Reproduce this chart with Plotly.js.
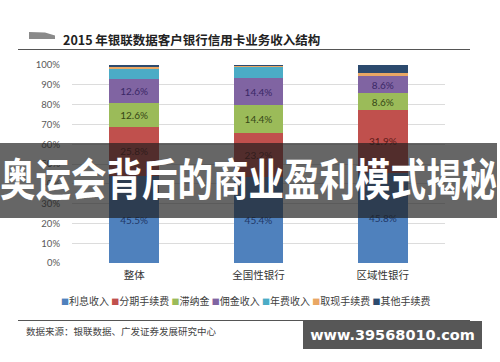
<!DOCTYPE html>
<html>
<head>
<meta charset="utf-8">
<script src="https://cdn.plot.ly/plotly-3.0.1.min.js"></script>
<style>
  html, body { margin:0; padding:0; background:#fff; }
  #wrap { position:relative; width:500px; height:362px; overflow:hidden; }
  #chart { position:absolute; left:0; top:0; width:500px; height:362px; }
  #banner { position:absolute; left:0; top:143px; width:497px; height:75px; background:rgba(30,30,30,0.68); overflow:hidden; }
  #banner span { position:absolute; left:0; width:490px; top:9px; text-align:center; color:#fff; font-family:"Noto Sans CJK SC", sans-serif; font-weight:700; font-size:35.5px; line-height:40px; white-space:nowrap; transform:scaleY(1.25); transform-origin:50% 0; letter-spacing:0px; }
  #wm { position:absolute; left:303px; top:321px; width:179px; height:28px; background:rgba(40,40,40,0.78); color:#fff; font-family:"DejaVu Sans", sans-serif; font-weight:700; font-size:14.5px; line-height:28px; text-align:center; white-space:nowrap; }
</style>
</head>
<body>
<div id="wrap">
  <div id="chart"></div>
  <div id="banner"><span>奥运会背后的商业盈利模式揭秘</span></div>
  <div id="wm">www.39568010.com</div>
</div>
<script>
// ---- data ----
const categories = ['整体', '全国性银行', '区域性银行'];
const seriesNames = ['利息收入', '分期手续费', '滞纳金', '佣金收入', '年费收入', '取现手续费', '其他手续费'];
const interestIncome   = [45.5, 45.4, 45.8];
const installmentFee   = [25.8, 23.2, 31.9];
const lateFee          = [12.6, 14.4, 8.6];
const commissionIncome = [12.6, 14.4, 8.6];
const annualFee        = [4.9, 5.7, 0.3];
const cashAdvanceFee   = [1.0, 0.8, 1.2];
const otherFee         = [1.2, 0.3, 4.2];
const labeledSeries    = [true, true, true, true, false, false, false];
const yTickVals = [0, 10, 20, 30, 40, 50, 60, 70, 80, 90, 100];
const titleText = '2015 年银联数据客户银行信用卡业务收入结构';
const sourceText = '数据来源：银联数据、广发证券发展研究中心';

// ---- styles ----
const colors = ['#4f81bd', '#c0504d', '#9bbb59', '#8064a2', '#4bacc6', '#e9a764', '#2c4a6e'];
const labelColors = ['#1f3766', '#5c1a18', '#364616', '#3a2766', '#000', '#000', '#000'];
const allValues = [interestIncome, installmentFee, lateFee, commissionIncome, annualFee, cashAdvanceFee, otherFee];

const traces = allValues.map((vals, i) => ({
  type: 'bar',
  name: seriesNames[i],
  x: categories,
  y: vals,
  marker: { color: colors[i], line: { width: 0 } },
  text: labeledSeries[i] ? vals.map(v => v.toFixed(1) + '%') : vals.map(() => ''),
  textposition: labeledSeries[i] ? 'inside' : 'none',
  insidetextanchor: 'middle',
  textangle: 0,
  constraintext: 'none',
  textfont: { family: 'Lato, sans-serif', size: 10, color: labelColors[i] },
  hoverinfo: 'skip'
}));

// pixel -> paper helpers (plot area: x 72..445, y 65..263)
const L = 72, R = 445, T = 65, B = 263;
const X = px => (px - L) / (R - L);
const Y = py => (B - py) / (B - T);

const legendText = seriesNames.map((n, i) =>
  '<span style="color:' + colors[i] + ';font-size:8px">■</span>' + n
).join(' ');

const layout = {
  width: 500, height: 362,
  margin: { l: L, r: 500 - R, t: T, b: 362 - B, pad: 0 },
  paper_bgcolor: '#fff', plot_bgcolor: '#fff',
  barmode: 'stack', barnorm: 'percent', bargap: 0.6,
  showlegend: false,
  font: { family: '"Noto Sans CJK SC", sans-serif' },
  xaxis: {
    type: 'category', showgrid: false, zeroline: false, showline: false, ticks: '',
    tickfont: { family: '"Noto Sans CJK SC", sans-serif', size: 10.5, color: '#333' },
    ticklabelstandoff: 4
  },
  yaxis: {
    range: [0, 100], tickmode: 'array', tickvals: yTickVals,
    ticktext: yTickVals.map(v => v + '%'),
    showgrid: true, gridcolor: '#dcdcdc', gridwidth: 1, zeroline: false, showline: false, ticks: '',
    tickfont: { family: 'Lato, sans-serif', size: 9.5, color: '#595959' },
    ticklabelstandoff: 11
  },
  shapes: [
    { type: 'path', xref: 'paper', yref: 'paper', layer: 'above',
      path: 'M ' + X(29) + ' ' + Y(32) + ' L ' + X(45) + ' ' + Y(32.5) + ' L ' + X(55) + ' ' + Y(35.5) +
            ' L ' + X(55) + ' ' + Y(39) + ' L ' + X(29) + ' ' + Y(39) + ' Z',
      fillcolor: '#8a8a8a', line: { width: 0 } },
    { type: 'line', xref: 'paper', yref: 'paper', x0: X(18), x1: X(470), y0: Y(49.5), y1: Y(49.5),
      line: { color: '#555', width: 1 } },
    { type: 'line', xref: 'paper', yref: 'paper', x0: X(18), x1: X(470), y0: Y(320.5), y1: Y(320.5),
      line: { color: '#555', width: 1 } }
  ],
  annotations: [
    { xref: 'paper', yref: 'paper', x: X(61), y: Y(40), xanchor: 'left', yanchor: 'middle', showarrow: false,
      text: '<b>' + titleText + '</b>', font: { family: '"Noto Sans CJK SC", sans-serif', size: 12.5, color: '#222' } },
    { xref: 'paper', yref: 'paper', x: X(246), y: Y(300.5), xanchor: 'center', yanchor: 'middle', showarrow: false,
      text: legendText, font: { family: '"Noto Sans CJK SC", sans-serif', size: 10, color: '#404040' } },
    { xref: 'paper', yref: 'paper', x: X(24), y: Y(330.5), xanchor: 'left', yanchor: 'middle', showarrow: false,
      text: sourceText, font: { family: '"Noto Sans CJK SC", sans-serif', size: 9.5, color: '#444' } }
  ]
};

Plotly.newPlot('chart', traces, layout, { staticPlot: true, displayModeBar: false });
</script>
</body>
</html>
